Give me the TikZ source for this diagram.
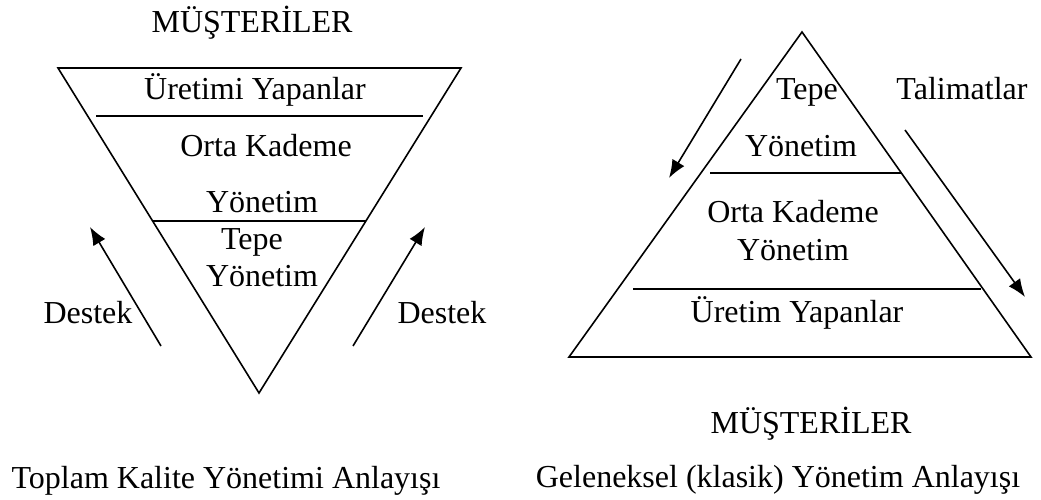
\documentclass[tikz,border=0pt]{standalone}
\usepackage{fontspec}
\setmainfont{Liberation Serif}
\usetikzlibrary{arrows.meta}
\begin{document}
\begin{tikzpicture}[x=1pt,y=-1pt,
  lbl/.style={anchor=base,inner sep=0pt,font=\fontsize{32}{38}\selectfont},
  edge/.style={line width=1.6pt,line join=miter},
  arr/.style={line width=1.6pt,-{Latex[length=18pt,width=14pt]}}]
\useasboundingbox (0,0) rectangle (1041,500);
% ---------- left: inverted triangle ----------
\coordinate (LTL) at (58,68);
\coordinate (LTR) at (461,68);
\coordinate (LA) at (259,393);
\draw[edge] (LTL) -- (LTR) -- (LA) -- cycle;
\coordinate (L1a) at (96,116);  \coordinate (L1b) at (423,116);
\coordinate (L2a) at (153,221); \coordinate (L2b) at (366,221);
\draw[edge] (L1a) -- (L1b);
\draw[edge] (L2a) -- (L2b);
\node[lbl] (lm) at (252,33) {MÜŞTERİLER};
\node[lbl] (luy) at (255,100) {Üretimi Yapanlar};
\node[lbl] (lok) at (266,157) {Orta Kademe};
\node[lbl] (ly1) at (262,212) {Yönetim};
\node[lbl] (ltp) at (252,249) {Tepe};
\node[lbl] (ly2) at (262,286) {Yönetim};
\node[lbl] (ld1) at (88,323) {Destek};
\node[lbl] (ld2) at (442,323) {Destek};
\node[lbl] (ltk) at (226,488) {Toplam Kalite Yönetimi Anlayışı};
\coordinate (la1s) at (161,346); \coordinate (la1e) at (90,227);
\coordinate (la2s) at (353,346); \coordinate (la2e) at (425,227);
\draw[arr] (la1s) -- (la1e);
\draw[arr] (la2s) -- (la2e);
% ---------- right: triangle ----------
\coordinate (RA) at (802,32);
\coordinate (RBL) at (569,357);
\coordinate (RBR) at (1031,357);
\draw[edge] (RA) -- (RBR) -- (RBL) -- cycle;
\coordinate (R1a) at (710,173); \coordinate (R1b) at (901,173);
\coordinate (R2a) at (633,289); \coordinate (R2b) at (981,289);
\draw[edge] (R1a) -- (R1b);
\draw[edge] (R2a) -- (R2b);
\node[lbl] (rtp) at (807,100) {Tepe};
\node[lbl] (rtl) at (962,100) {Talimatlar};
\node[lbl] (ry1) at (801,157) {Yönetim};
\node[lbl] (rok) at (793,222) {Orta Kademe};
\node[lbl] (ry2) at (793,260) {Yönetim};
\node[lbl] (ruy) at (797,322) {Üretim Yapanlar};
\node[lbl] (rm) at (811,433) {MÜŞTERİLER};
\node[lbl] (rgk) at (778,487) {Geleneksel (klasik) Yönetim Anlayışı};
\coordinate (ra1s) at (741,59);  \coordinate (ra1e) at (669,178);
\coordinate (ra2s) at (905,130); \coordinate (ra2e) at (1025,297);
\draw[arr] (ra1s) -- (ra1e);
\draw[arr] (ra2s) -- (ra2e);
\end{tikzpicture}
\end{document}
